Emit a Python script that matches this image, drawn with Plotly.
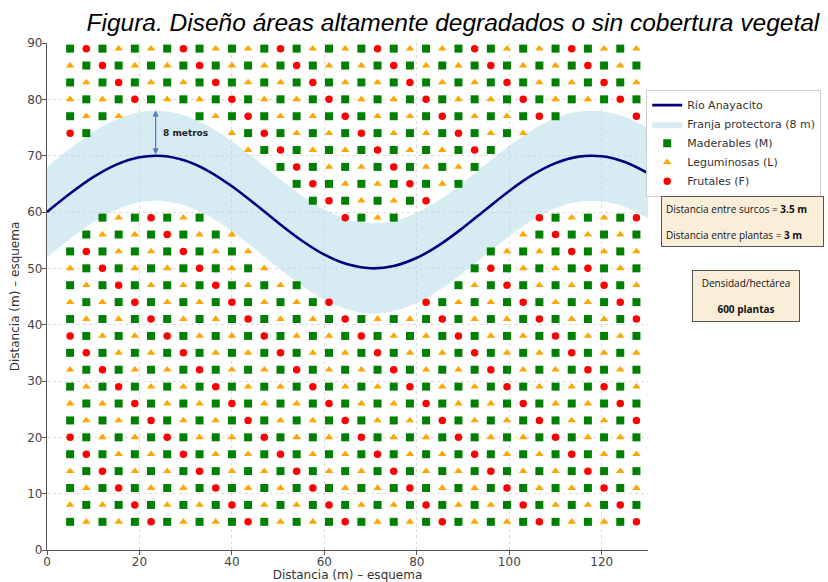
import plotly.graph_objects as go

# ---------------- data ----------------
cols_x = [5.0, 8.5, 12.0, 15.5, 19.0, 22.5, 26.0, 29.5, 33.0, 36.5, 40.0, 43.5,
          47.0, 50.5, 54.0, 57.5, 61.0, 64.5, 68.0, 71.5, 75.0, 78.5, 82.0, 85.5,
          89.0, 92.5, 96.0, 99.5, 103.0, 106.5, 110.0, 113.5, 117.0, 120.5, 124.0, 127.5]
rows_y = [5, 8, 11, 14, 17, 20, 23, 26, 29, 32, 35, 38, 41, 44, 47, 50, 53, 56,
          59, 62, 65, 68, 71, 74, 77, 80, 83, 86, 89]

# planting layout, bottom row first; M = Maderables, L = Leguminosas, F = Frutales, . = empty
grid_rows = [
    "MLMLMFMLMLMFMLMLMFMLMLMFMLMLMFMLMLMF",  # y=5
    "LMLMFMLMLMFMLMLMFMLMLMFMLMLMFMLMLMFM",  # y=8
    "MLMFMLMLMFMLMLMFMLMLMFMLMLMFMLMLMFML",  # y=11
    "LMFMLMLMFMLMLMFMLMLMFMLMLMFMLMLMFMLM",  # y=14
    "MFMLMLMFMLMLMFMLMLMFMLMLMFMLMLMFMLML",  # y=17
    "FMLMLMFMLMLMFMLMLMFMLMLMFMLMLMFMLMLM",  # y=20
    "MLMLMFMLMLMFMLMLMFMLMLMFMLMLMFMLMLMF",  # y=23
    "LMLMFMLMLMFMLMLMFMLMLMFMLMLMFMLMLMFM",  # y=26
    "MLMFMLMLMFMLMLMFMLMLMFMLMLMFMLMLMFML",  # y=29
    "LMFMLMLMFMLMLMFMLMLMFMLMLMFMLMLMFMLM",  # y=32
    "MFMLMLMFMLMLMFMLMLMFMLMLMFMLMLMFMLML",  # y=35
    "FMLMLMFMLMLMFMLMLMFMLMLMFMLMLMFMLMLM",  # y=38
    "MLMLMFMLMLMFMLMLMFMLMLMFMLMLMFMLMLMF",  # y=41
    "LMLMFMLMLMFMLMLMF.....FMLMLMFMLMLMFM",  # y=44
    "MLMFMLMLMFMLMLM.........MLMFMLMLMFML",  # y=47
    "LMFMLMLMFMLML............MFMLMLMFMLM",  # y=50
    "MFMLMLMFMLML..............MLMLMFMLML",  # y=53
    ".MLMLMFMLML.................LMFMLMLM",  # y=56
    "..MLMFMLM........FMLM........FMLMLMF",  # y=59
    "...............MFMLMLMF.............",  # y=62
    "..............MFMLMLMFMLM...........",  # y=65
    ".............MFMLMLMFMLMLM..........",  # y=68
    "...........LMFMLMLMFMLMLMFM.........",  # y=71
    "FM........LMFMLMLMFMLMLMFMLML.......",  # y=74
    "MLML....MLMFMLMLMFMLMLMFMLMLMFM....F",  # y=77
    "LMLMFMLMLMFMLMLMFMLMLMFMLMLMFMLMLMFM",  # y=80
    "MLMFMLMLMFMLMLMFMLMLMFMLMLMFMLMLMFML",  # y=83
    "LMFMLMLMFMLMLMFMLMLMFMLMLMFMLMLMFMLM",  # y=86
    "MFMLMLMFMLMLMFMLMLMFMLMLMFMLMLMFMLML",  # y=89
]

# river centre line (x in m, y in m)
river_x = [0, 5, 10, 15, 20, 25, 30, 35, 40, 45, 50, 55, 60, 65, 70, 75, 80, 85,
           90, 95, 100, 105, 110, 115, 120, 125, 130]
river_y = [60.0, 63.27, 66.18, 68.41, 69.72, 69.95, 69.09, 67.23, 64.57, 61.41,
           58.09, 54.99, 52.43, 50.71, 50.01, 50.41, 51.87, 54.22, 57.21, 60.50,
           63.74, 66.57, 68.67, 69.83, 69.89, 68.87, 66.88]
buffer_m = 8

species = [
    ("M", "Maderables (M)", "square", "#008000", 8),
    ("L", "Leguminosas (L)", "triangle-up", "#FFA500", 7.5),
    ("F", "Frutales (F)", "circle", "#FF0000", 7.5),
]

x_ticks = [0, 20, 40, 60, 80, 100, 120]
y_ticks = [0, 10, 20, 30, 40, 50, 60, 70, 80, 90]

# ---------------- figure ----------------
fig = go.Figure()

band_upper = [v + buffer_m for v in river_y]
band_lower = [v - buffer_m for v in river_y]

fig.add_trace(go.Scatter(x=river_x, y=band_lower, mode="lines",
                         line=dict(width=0, shape="spline"), showlegend=False,
                         hoverinfo="skip"))
fig.add_trace(go.Scatter(x=river_x, y=band_upper, mode="lines",
                         line=dict(width=0, shape="spline"), fill="tonexty",
                         fillcolor="rgba(173,216,230,0.5)",
                         name="Franja protectora (8 m)", legendrank=2,
                         hoverinfo="skip"))
fig.add_trace(go.Scatter(x=river_x, y=river_y, mode="lines",
                         line=dict(color="#000080", width=2.6, shape="spline"),
                         name="Río Anayacito", legendrank=1))

for rank, (code, label, symbol, color, size) in enumerate(species, start=3):
    xs, ys = [], []
    for yv, row in zip(rows_y, grid_rows):
        for xv, ch in zip(cols_x, row):
            if ch == code:
                xs.append(xv)
                ys.append(yv)
    fig.add_trace(go.Scatter(x=xs, y=ys, mode="markers", name=label,
                             legendrank=rank,
                             marker=dict(symbol=symbol, color=color, size=size,
                                         line=dict(width=0))))

# 8 m arrow
fig.add_annotation(x=23.5, y=78, ax=23.5, ay=70, xref="x", yref="y",
                   axref="x", ayref="y", text="", showarrow=True,
                   arrowhead=2, arrowside="end+start", arrowsize=1,
                   arrowwidth=1.2, arrowcolor="#4a78c8", standoff=0, startstandoff=0)
fig.add_annotation(x=24.6, y=74.1, xref="x", yref="y", text="<b>8 metros</b>",
                   showarrow=False, xanchor="left", yanchor="middle",
                   font=dict(family="DejaVu Sans", size=9, color="#222"))

# info boxes
fig.add_annotation(x=1.157, y=0.648, xref="paper", yref="paper",
                   text="Distancia entre surcos = <b>3.5 m</b><br><br>Distancia entre plantas = <b>3 m</b>",
                   showarrow=False, align="left", xanchor="center", yanchor="middle",
                   width=153, height=41, borderpad=4,
                   bgcolor="rgb(250,238,217)", bordercolor="#555", borderwidth=1,
                   font=dict(family="Open Sans", size=10, color="#111"))
fig.add_annotation(x=1.163, y=0.501, xref="paper", yref="paper",
                   text="Densidad/hectárea<br><br><b>600 plantas</b>",
                   showarrow=False, align="center", xanchor="center", yanchor="middle",
                   width=98, height=42, borderpad=4,
                   bgcolor="rgb(250,238,217)", bordercolor="#555", borderwidth=1,
                   font=dict(family="Open Sans", size=10, color="#111"))

fig.update_layout(
    width=828, height=582,
    margin=dict(l=47, r=180, t=43, b=32, autoexpand=False),
    paper_bgcolor="white", plot_bgcolor="white",
    title=dict(text="<i>Figura. Diseño áreas altamente degradados o sin cobertura vegetal</i>",
               xref="container", yref="container", x=0.547, y=0.962,
               xanchor="center", yanchor="middle", automargin=False,
               font=dict(family="Liberation Sans", size=24.5, color="#000")),
    legend=dict(x=0.997, y=0.908, xanchor="left", yanchor="top",
                bgcolor="white", bordercolor="#cccccc", borderwidth=1,
                font=dict(family="DejaVu Sans", size=11, color="#333"),
                traceorder="normal", itemwidth=30),
    showlegend=True,
    hovermode=False,
)
fig.update_xaxes(range=[0, 130], tickvals=x_ticks, showgrid=True, automargin=False,
                 gridcolor="#dddddd", griddash="dot", gridwidth=1,
                 zeroline=False, showline=True, linecolor="#555", linewidth=1.2,
                 ticks="outside", ticklen=4, tickcolor="#555", ticklabelstandoff=-4,
                 tickfont=dict(family="DejaVu Sans", size=12, color="#444"),
                 title=dict(text="Distancia (m) – esquema", standoff=5,
                            font=dict(family="DejaVu Sans", size=12, color="#333")))
fig.update_yaxes(range=[0, 90], tickvals=y_ticks, showgrid=True, automargin=False,
                 gridcolor="#dddddd", griddash="dot", gridwidth=1,
                 zeroline=False, showline=True, linecolor="#555", linewidth=1.2,
                 ticks="outside", ticklen=4, tickcolor="#555", ticklabelstandoff=-3,
                 tickfont=dict(family="DejaVu Sans", size=12, color="#444"),
                 title=dict(text="Distancia (m) – esquema", standoff=5,
                            font=dict(family="DejaVu Sans", size=12, color="#333")))

fig.write_html("out.html", config={"displayModeBar": False},
               post_script="document.body.style.margin='0';document.body.style.overflow='hidden';")
